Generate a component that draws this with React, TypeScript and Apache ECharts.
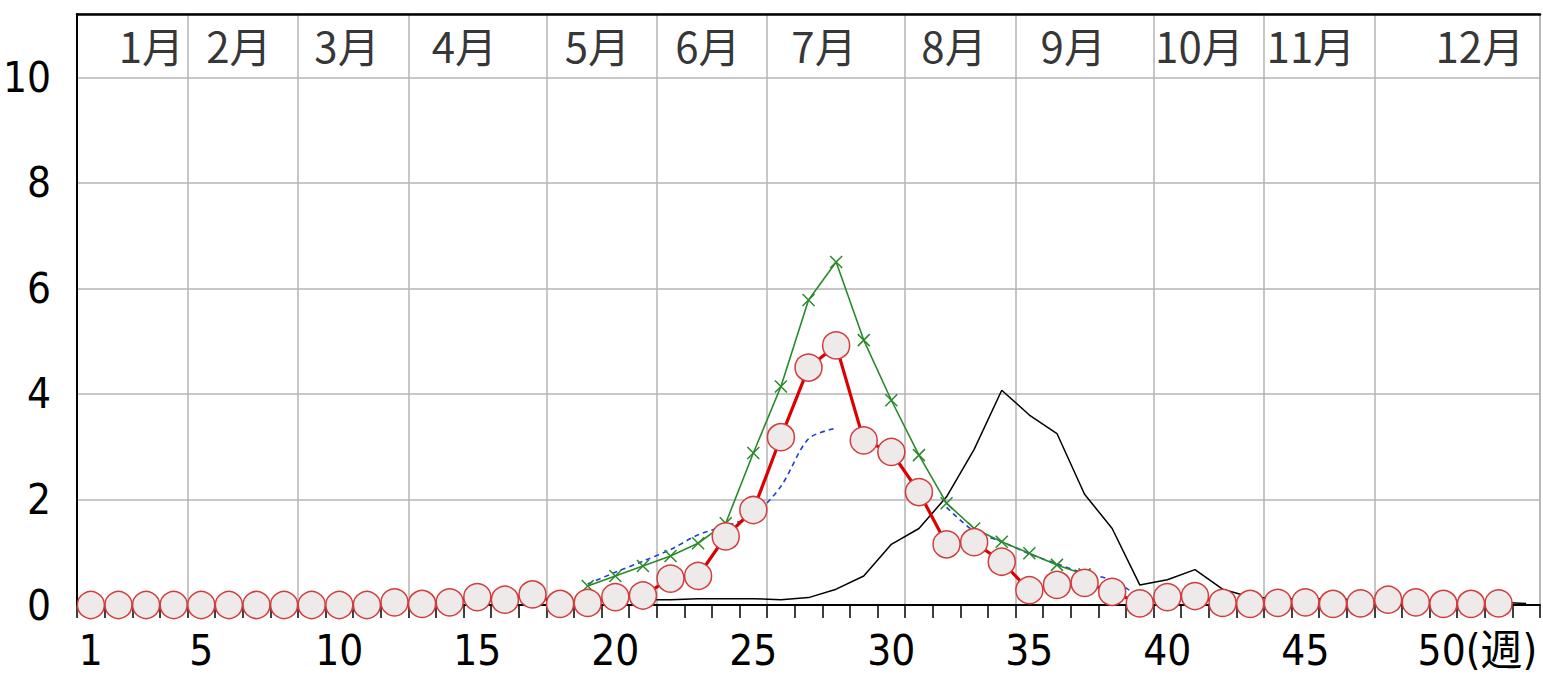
import React, { useEffect, useRef } from "react";
import * as echarts from "echarts";

// ---- data ----
const weeks: string[] = Array.from({ length: 53 }, (_, i) => String(i + 1));

const currentYear: (number | null)[] = [
  0, 0, 0, 0, 0, 0, 0, 0, 0, 0, 0,
  0.05, 0.02, 0.05, 0.15, 0.1, 0.2, 0.02, 0.04, 0.15, 0.18,
  0.5, 0.55, 1.3, 1.8, 3.18, 4.5, 4.92, 3.12, 2.9, 2.14,
  1.15, 1.19, 0.82, 0.28, 0.38, 0.42, 0.25, 0.03, 0.15, 0.17,
  0.04, 0.02, 0.04, 0.05, 0.02, 0.03, 0.1, 0.05, 0.02, 0.02, 0.03,
  null,
];

const greenSeries: (number | null)[] = [
  null, null, null, null, null, null, null, null, null, null, null, null, null, null, null, null, null, null,
  0.36, 0.55, 0.74, 0.93, 1.17, 1.55, 2.88, 4.14, 5.78, 6.5, 5.02, 3.88, 2.84, 1.93, 1.45, 1.2, 0.98, 0.76, 0.58,
  null, null, null, null, null, null, null, null, null, null, null, null, null, null, null, null,
];

const blueSeries: (number | null)[] = [
  null, null, null, null, null, null, null, null, null, null, null, null, null, null, null, null, null, null,
  0.4, 0.62, 0.83, 1.05, 1.33, 1.5, 1.7, 2.25, 3.15, 3.35,
  null, null, null,
  1.85, 1.4, 1.2, 0.97, 0.78, 0.6, 0.47, 0.15,
  null, null, null, null, null, null, null, null, null, null, null, null, null, null,
];

const blackSeries: (number | null)[] = [
  null, null, null, null, null, null, null, null, null, null, null, null, null, null, null, null, null, null, null, null,
  0.1, 0.1, 0.12, 0.12, 0.12, 0.1, 0.14, 0.3, 0.55, 1.15, 1.45, 2.05, 2.95, 4.07, 3.6, 3.25, 2.1, 1.45,
  0.38, 0.48, 0.67, 0.3, 0.15, 0.12, 0.12, 0.12, 0.1, 0.1, 0.1, 0.08, 0.05, 0.05, 0.03,
];

const monthLabels: string[] = ["1月", "2月", "3月", "4月", "5月", "6月", "7月", "8月", "9月", "10月", "11月", "12月"];
const monthLabelWeek: number[] = [3.19, 6.36, 10.28, 14.53, 19.35, 23.35, 27.56, 32.27, 36.59, 41.16, 45.2, 51.32];
const monthStartWeeks: number[] = [5, 9, 13, 18, 22, 26, 31, 35, 40, 44, 48];
const xLabelWeeks: number[] = [1, 5, 10, 15, 20, 25, 30, 35, 40, 45, 50];
const monthRowValue = 10.63;

const NARROW = "'Liberation Sans Narrow', 'DejaVu Sans Condensed', 'Noto Sans CJK JP', sans-serif";
const CJK = "'Noto Sans CJK JP', sans-serif";

export default function App() {
  const ref = useRef<HTMLDivElement>(null);

  useEffect(() => {
    if (!ref.current) return;
    const chart = echarts.init(ref.current, null, { renderer: "svg" });
    const option: any = {
      animation: false,
      backgroundColor: "#ffffff",
      grid: {
        left: 72,
        top: 14,
        right: 3,
        bottom: 69,
        show: true,
        borderColor: "#b4b4b4",
        borderWidth: 1.5,
      },
      xAxis: [
        {
          type: "category",
          data: weeks,
          boundaryGap: true,
          position: "bottom",
          axisLine: { show: true, lineStyle: { color: "#000", width: 2 } },
          axisTick: { show: true, interval: 0, length: 13, inside: false, lineStyle: { color: "#000", width: 1.5 } },
          axisLabel: {
            interval: (i: number, v: string) => xLabelWeeks.includes(Number(v)),
            margin: 24,
            fontSize: 42,
            fontFamily: NARROW,
            color: "#000",
            formatter: (v: string) => (v === "50" ? "{w|50(週)}" : v),
            rich: {
              w: { fontSize: 42, fontFamily: NARROW, color: "#000", padding: [0, 0, 0, 68] },
            },
          },
          splitLine: {
            show: true,
            interval: (i: number, v: string) => monthStartWeeks.includes(Number(v)),
            lineStyle: { color: "#b4b4b4", width: 1.5 },
          },
        },
        {
          type: "value",
          position: "top",
          min: 0.5,
          max: 53.5,
          axisLine: { show: true, onZero: false, lineStyle: { color: "#000", width: 2.5 } },
          axisTick: { show: false },
          axisLabel: { show: false },
          splitLine: { show: false },
        },
      ],
      yAxis: {
        type: "value",
        min: 0,
        max: 11.2,
        interval: 2,
        axisLine: { show: true, lineStyle: { color: "#000", width: 2 } },
        axisTick: { show: false },
        axisLabel: {
          showMaxLabel: false,
          margin: 26,
          fontSize: 42,
          fontFamily: NARROW,
          color: "#000",
        },
        splitLine: { show: true, lineStyle: { color: "#b4b4b4", width: 1.5 } },
      },
      series: [
        {
          name: "black",
          type: "line",
          data: blackSeries,
          symbol: "none",
          lineStyle: { color: "#000", width: 1.5 },
          connectNulls: false,
        },
        {
          name: "blue",
          type: "line",
          data: blueSeries,
          symbol: "none",
          smooth: 0.3,
          lineStyle: { color: "#1f3fd6", width: 1.6, type: [5, 4] },
          connectNulls: false,
        },
        {
          name: "green",
          type: "line",
          data: greenSeries,
          symbol: "path://M0,0L10,10M10,0L0,10",
          symbolSize: 12,
          showAllSymbol: true,
          itemStyle: { color: "transparent", borderColor: "#2a8a2a", borderWidth: 1.5 },
          lineStyle: { color: "#2a8a2a", width: 1.6 },
          connectNulls: false,
        },
        {
          name: "current",
          type: "line",
          data: currentYear,
          symbol: "circle",
          symbolSize: 27,
          showAllSymbol: true,
          itemStyle: { color: "#eeeaea", borderColor: "#d23c3c", borderWidth: 1.5 },
          lineStyle: { color: "#dd0000", width: 3.2 },
          connectNulls: false,
        },
        {
          name: "months",
          type: "scatter",
          xAxisIndex: 1,
          data: monthLabels.map((m, i) => ({ name: m, value: [monthLabelWeek[i], monthRowValue] })),
          symbolSize: 1,
          itemStyle: { color: "transparent" },
          silent: true,
          label: {
            show: true,
            position: "inside",
            formatter: (p: any) => p.name,
            fontSize: 42,
            fontFamily: CJK,
            color: "#000",
          },
        },
      ],
    };
    chart.setOption(option);
    return () => chart.dispose();
  }, []);

  return (
    <div
      ref={ref}
      style={{ position: "absolute", left: 0, top: 0, width: 1543, height: 674, background: "#fff" }}
    />
  );
}
